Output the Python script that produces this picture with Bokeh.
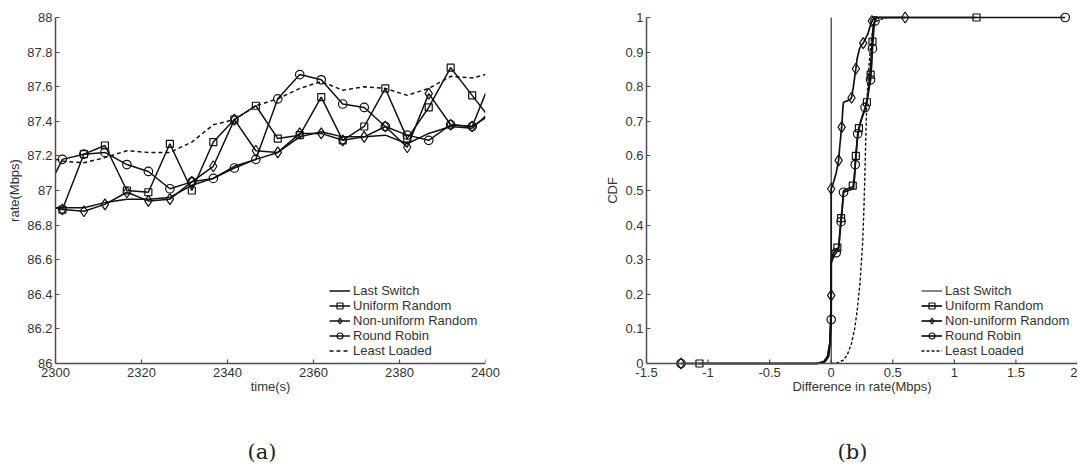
from bokeh.plotting import figure
from bokeh.models import Range1d, FixedTicker, CustomJSTickFormatter, Legend, LegendItem, Title, Span
from bokeh.layouts import row
from bokeh.embed import file_html
from bokeh.resources import INLINE

# ---------------- (a) rate over time ----------------
time_s = [2300, 2301.6, 2306.6, 2311.5, 2316.6, 2321.6, 2326.6, 2331.7, 2336.7, 2341.6, 2346.6,
          2351.7, 2356.8, 2361.8, 2366.8, 2371.8, 2376.7, 2381.8, 2386.8, 2391.9, 2396.9, 2400]
last_switch_rate = [86.90, 86.90, 86.90, 86.93, 86.95, 86.95, 86.96, 87.03, 87.07, 87.14, 87.18,
                    87.22, 87.31, 87.34, 87.31, 87.31, 87.32, 87.27, 87.33, 87.37, 87.36, 87.43]
uniform_rate = [86.90, 86.89, 87.21, 87.26, 87.00, 86.99, 87.27, 87.00, 87.28, 87.41, 87.49,
                87.30, 87.32, 87.54, 87.29, 87.37, 87.59, 87.30, 87.48, 87.71, 87.55, 87.45]
nonuniform_rate = [86.90, 86.89, 86.88, 86.92, 86.99, 86.94, 86.95, 87.05, 87.14, 87.41, 87.23,
                   87.22, 87.33, 87.33, 87.29, 87.31, 87.37, 87.25, 87.56, 87.38, 87.37, 87.42]
roundrobin_rate = [87.10, 87.18, 87.21, 87.22, 87.15, 87.11, 87.01, 87.05, 87.07, 87.13, 87.18,
                   87.53, 87.67, 87.64, 87.50, 87.48, 87.37, 87.32, 87.29, 87.38, 87.37, 87.56]
leastloaded_rate = [87.18, 87.17, 87.16, 87.19, 87.23, 87.22, 87.22, 87.28, 87.38, 87.41, 87.49,
                    87.53, 87.59, 87.63, 87.58, 87.60, 87.59, 87.55, 87.59, 87.66, 87.65, 87.67]
a_xticks = [2300, 2320, 2340, 2360, 2380, 2400]
a_yticks = [86, 86.2, 86.4, 86.6, 86.8, 87, 87.2, 87.4, 87.6, 87.8, 88]

# ---------------- (b) CDF of rate difference ----------------
ls_x = [0.0, 0.0]
ls_y = [0.0, 1.0]
ur_x = [-1.07, -0.12, -0.06, -0.03, -0.01, 0.0, 0.0, 0.02, 0.04, 0.06, 0.07, 0.08, 0.09, 0.10, 0.17,
        0.18, 0.19, 0.20, 0.21, 0.225, 0.24, 0.27, 0.29, 0.30, 0.31, 0.32, 0.33, 0.34, 0.36, 0.5, 1.18]
ur_y = [0, 0, 0.005, 0.02, 0.06, 0.15, 0.30, 0.32, 0.33, 0.335, 0.38, 0.42, 0.45, 0.50, 0.51,
        0.514, 0.55, 0.60, 0.64, 0.68, 0.70, 0.73, 0.755, 0.78, 0.82, 0.86, 0.92, 0.97, 1.0, 1.0, 1.0]
ur_mx = [-1.07, 0.05, 0.08, 0.175, 0.20, 0.225, 0.29, 0.32, 0.335, 1.18]
ur_my = [0, 0.335, 0.42, 0.514, 0.60, 0.68, 0.755, 0.835, 0.93, 1.0]
nu_x = [-1.22, -0.10, -0.05, -0.02, -0.01, 0.0, 0.0, 0.0, 0.02, 0.04, 0.06, 0.07, 0.085, 0.095, 0.10,
        0.15, 0.165, 0.18, 0.20, 0.21, 0.23, 0.245, 0.26, 0.28, 0.30, 0.32, 0.34, 0.36, 0.6]
nu_y = [0, 0, 0.005, 0.02, 0.06, 0.20, 0.35, 0.505, 0.525, 0.55, 0.587, 0.63, 0.683, 0.74, 0.755,
        0.762, 0.768, 0.80, 0.852, 0.88, 0.91, 0.92, 0.926, 0.94, 0.955, 0.98, 0.995, 1.0, 1.0]
nu_mx = [-1.22, 0.0, 0.0, 0.06, 0.085, 0.165, 0.20, 0.26, 0.33, 0.6]
nu_my = [0, 0.197, 0.505, 0.587, 0.683, 0.768, 0.852, 0.926, 0.99, 1.0]
rr_x = [-1.22, -0.12, -0.06, -0.03, -0.01, 0.0, 0.0, 0.02, 0.04, 0.06, 0.07, 0.08, 0.09, 0.10, 0.18,
        0.19, 0.195, 0.205, 0.215, 0.24, 0.275, 0.29, 0.31, 0.32, 0.33, 0.335, 0.35, 0.37, 1.9]
rr_y = [0, 0, 0.005, 0.02, 0.06, 0.13, 0.29, 0.31, 0.32, 0.33, 0.37, 0.41, 0.45, 0.495, 0.505,
        0.54, 0.575, 0.62, 0.664, 0.70, 0.74, 0.76, 0.80, 0.82, 0.87, 0.91, 0.985, 1.0, 1.0]
rr_mx = [-1.22, 0.0, 0.04, 0.08, 0.10, 0.195, 0.215, 0.275, 0.32, 0.335, 0.355, 1.9]
rr_my = [0, 0.127, 0.32, 0.41, 0.495, 0.575, 0.664, 0.74, 0.82, 0.91, 0.99, 1.0]
ll_x = [0.0, 0.05, 0.10, 0.13, 0.165, 0.19, 0.21, 0.233, 0.255, 0.265, 0.273, 0.28, 0.287,
        0.30, 0.32, 0.34, 0.37, 0.45]
ll_y = [0, 0.002, 0.01, 0.025, 0.058, 0.10, 0.15, 0.23, 0.347, 0.44, 0.54, 0.64, 0.73,
        0.83, 0.92, 0.97, 0.99, 1.0]
b_xticks = [-1.5, -1, -0.5, 0, 0.5, 1, 1.5, 2]
b_yticks = [0, 0.1, 0.2, 0.3, 0.4, 0.5, 0.6, 0.7, 0.8, 0.9, 1]

labels = ["Last Switch", "Uniform Random", "Non-uniform Random", "Round Robin", "Least Loaded"]

FONT = "Liberation Sans"
AX = "#4d4d4d"
TXT = "#333333"
LC = "#111111"
FMT = "return (Math.round(tick*10)/10).toString();"
FRAME_H = 360      # drawing frame, a little taller than the axes so edge markers are not cut
AXES_H = 346       # pixel height of the visible y axis


def style(p, xticks, yticks, xlabel, ylabel, y0, y1):
    p.grid.visible = False
    p.outline_line_color = None
    p.xaxis.axis_label = xlabel
    p.yaxis.axis_label = ylabel
    p.xaxis.ticker = FixedTicker(ticks=xticks)
    p.yaxis.ticker = FixedTicker(ticks=yticks)
    for ax in (p.xaxis[0], p.yaxis[0]):
        ax.axis_line_color = AX
        ax.axis_line_width = 1.5
        ax.major_tick_line_color = AX
        ax.major_tick_line_width = 1.2
        ax.major_tick_in = 4
        ax.major_tick_out = 0
        ax.minor_tick_line_color = None
        ax.major_label_text_font = FONT
        ax.major_label_text_font_size = "13px"
        ax.major_label_text_color = TXT
        ax.axis_label_text_font = FONT
        ax.axis_label_text_font_size = "13px"
        ax.axis_label_text_font_style = "normal"
        ax.axis_label_text_color = TXT
        ax.formatter = CustomJSTickFormatter(code=FMT)
    # x axis drawn at the bottom value of the y axis (frame extends a few px below)
    p.xaxis.axis_line_color = None
    p.xaxis.major_tick_line_color = None
    p.xaxis.major_label_standoff = -3
    p.xaxis.axis_label_standoff = -1
    p.yaxis.major_label_standoff = 3
    p.yaxis.axis_label_standoff = 2
    p.yaxis.bounds = (y0, y1)
    p.add_layout(Span(location=y0, dimension="width", line_color=AX, line_width=1.5))
    tick_len = 4 * (y1 - y0) / AXES_H
    p.segment(x0=xticks, y0=[y0] * len(xticks), x1=xticks, y1=[y0 + tick_len] * len(xticks),
              line_color=AX, line_width=1.2)


def caption(p, text, offset):
    p.add_layout(Title(text=" ", text_font_size="1px", standoff=38), "below")
    p.add_layout(Title(text=text, align="left", offset=offset, standoff=0,
                       vertical_align="bottom", text_font="DejaVu Serif",
                       text_font_size="21px", text_font_style="normal",
                       text_color="#222222"), "below")


def make_legend(p, items, loc):
    lg = Legend(items=[LegendItem(label=l, renderers=r) for l, r in zip(labels, items)], location=loc)
    lg.padding = 0
    lg.margin = 0
    lg.spacing = 0
    lg.glyph_width = 21
    lg.glyph_height = 15
    lg.label_height = 15
    lg.label_standoff = 3
    lg.label_text_font = FONT
    lg.label_text_font_size = "13px"
    lg.label_text_color = TXT
    lg.border_line_color = None
    lg.background_fill_alpha = 0
    p.add_layout(lg)


def padded(lo, hi):
    pad = (FRAME_H / AXES_H - 1) / 2 * (hi - lo)
    return Range1d(lo - pad, hi + pad)


# ---------- figure (a) ----------
pa = figure(width=560, height=464, output_backend="svg", toolbar_location=None,
            x_range=Range1d(2300, 2400), y_range=padded(86, 88),
            min_border_left=55, min_border_right=75, min_border_top=10, min_border_bottom=94)
style(pa, a_xticks, a_yticks, "time(s)", "rate(Mbps)", 86, 88)
W = 1.5
ra_ls = pa.line(time_s, last_switch_rate, line_color=LC, line_width=W)
ra_ur = pa.line(time_s, uniform_rate, line_color=LC, line_width=W)
ra_nu = pa.line(time_s, nonuniform_rate, line_color=LC, line_width=W)
ra_rr = pa.line(time_s, roundrobin_rate, line_color=LC, line_width=W)
ra_ll = pa.line(time_s, leastloaded_rate, line_color=LC, line_width=W, line_dash="4 3")
ma_ur = pa.scatter(time_s[1:-1], uniform_rate[1:-1], marker="square", size=7,
                   line_color=LC, line_width=1.2, fill_color=None)
ma_nu = pa.scatter(time_s[1:-1], nonuniform_rate[1:-1], marker="diamond", size=11,
                   line_color=LC, line_width=1.2, fill_color=None)
ma_rr = pa.scatter(time_s[1:-1], roundrobin_rate[1:-1], marker="circle", size=8.5,
                   line_color=LC, line_width=1.2, fill_color=None)
make_legend(pa, [[ra_ls], [ra_ur, ma_ur], [ra_nu, ma_nu], [ra_rr, ma_rr], [ra_ll]], (274, 12))
caption(pa, "(a)", 192)

# ---------- figure (b) ----------
pb = figure(width=517, height=464, output_backend="svg", toolbar_location=None,
            x_range=Range1d(-1.5, 2), y_range=padded(0, 1),
            min_border_left=86, min_border_right=0, min_border_top=10, min_border_bottom=94)
style(pb, b_xticks, b_yticks, "Difference in rate(Mbps)", "CDF", 0, 1)
W2 = 1.7
rb_ls = pb.line(ls_x, ls_y, line_color="#333333", line_width=1.2)
rb_ur = pb.line(ur_x, ur_y, line_color=LC, line_width=W2)
rb_nu = pb.line(nu_x, nu_y, line_color=LC, line_width=W2)
rb_rr = pb.line(rr_x, rr_y, line_color=LC, line_width=W2)
rb_ll = pb.line(ll_x, ll_y, line_color=LC, line_width=1.4, line_dash="3 2")
mb_ur = pb.scatter(ur_mx, ur_my, marker="square", size=7, line_color=LC, line_width=1.2, fill_color=None)
mb_nu = pb.scatter(nu_mx, nu_my, marker="diamond", size=11, line_color=LC, line_width=1.2, fill_color=None)
mb_rr = pb.scatter(rr_mx, rr_my, marker="circle", size=8.5, line_color=LC, line_width=1.2, fill_color=None)
make_legend(pb, [[rb_ls], [rb_ur, mb_ur], [rb_nu, mb_nu], [rb_rr, mb_rr], [rb_ll]], (275, 12))
caption(pb, "(b)", 191)

layout = row(pa, pb)
open("out.html", "w").write(file_html(layout, INLINE))
